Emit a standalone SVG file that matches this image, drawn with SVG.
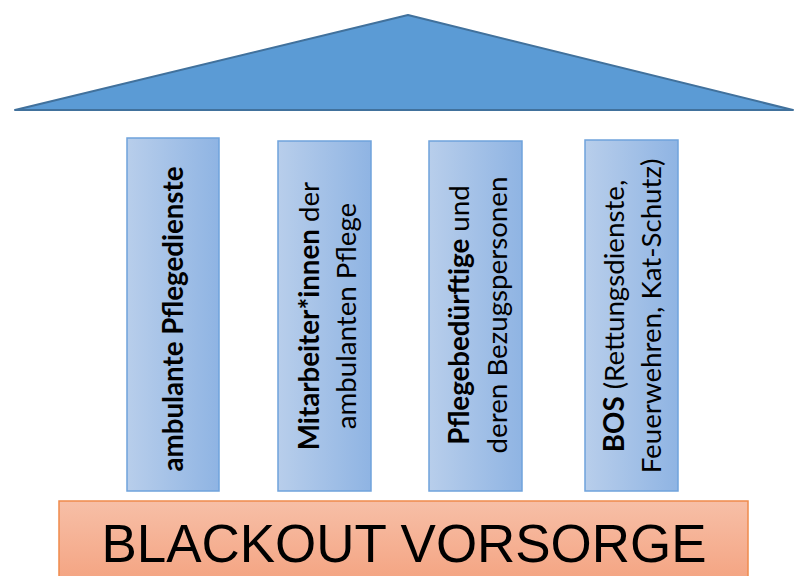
<svg xmlns="http://www.w3.org/2000/svg" width="794" height="576" viewBox="0 0 794 576">
<defs>
<linearGradient id="pg" x1="0" y1="0" x2="1" y2="0">
<stop offset="0" stop-color="#B8CEEB"/>
<stop offset="1" stop-color="#8FB4E3"/>
</linearGradient>
<linearGradient id="bg" x1="0" y1="0" x2="0" y2="1">
<stop offset="0" stop-color="#F7BFA7"/>
<stop offset="1" stop-color="#F4A482"/>
</linearGradient>
<style>
.pillar{fill:url(#pg);stroke:#6FA3DC;stroke-width:1.5}
.pt{font-family:Lato,"Liberation Sans",sans-serif;font-size:27.7px;fill:#000;text-anchor:middle}
.b{font-weight:bold}
</style>
</defs>
<g id="roof">
<polygon points="15,110 408,15 793,110" fill="#5B9BD5" stroke="#41719C" stroke-width="2" stroke-linejoin="round"/>
</g>
<g id="pillar1">
<rect class="pillar" x="127" y="138" width="92" height="353"/>
<text class="pt" transform="translate(173,319) rotate(-90)"><tspan class="b" x="0" y="10">ambulante Pflegedienste</tspan></text>
</g>
<g id="pillar2">
<rect class="pillar" x="278" y="141" width="93" height="350"/>
<text class="pt" transform="translate(324.5,316) rotate(-90)"><tspan x="0" y="-6"><tspan class="b">Mitarbeiter*innen</tspan> der</tspan><tspan x="0" y="31">ambulanten Pflege</tspan></text>
</g>
<g id="pillar3">
<rect class="pillar" x="429" y="141" width="93" height="350"/>
<text class="pt" transform="translate(475.5,315) rotate(-90)"><tspan x="0" y="-7"><tspan class="b">Pflegebedürftige</tspan> und</tspan><tspan x="0" y="31">deren Bezugspersonen</tspan></text>
</g>
<g id="pillar4">
<rect class="pillar" x="585" y="140" width="93" height="351"/>
<text class="pt" transform="translate(631.5,316) rotate(-90)"><tspan x="0" y="-8"><tspan class="b">BOS</tspan> (Rettungsdienste,</tspan><tspan x="0" y="29">Feuerwehren, Kat-Schutz)</tspan></text>
</g>
<g id="base">
<rect x="59" y="501" width="689" height="80" fill="url(#bg)" stroke="#EF8B4C" stroke-width="1.5"/>
<text x="101.5" y="561.5" font-family="Liberation Sans, Arial, sans-serif" font-size="54" textLength="605" lengthAdjust="spacingAndGlyphs" fill="#000">BLACKOUT VORSORGE</text>
</g>
<g id="connectors"/>
</svg>
